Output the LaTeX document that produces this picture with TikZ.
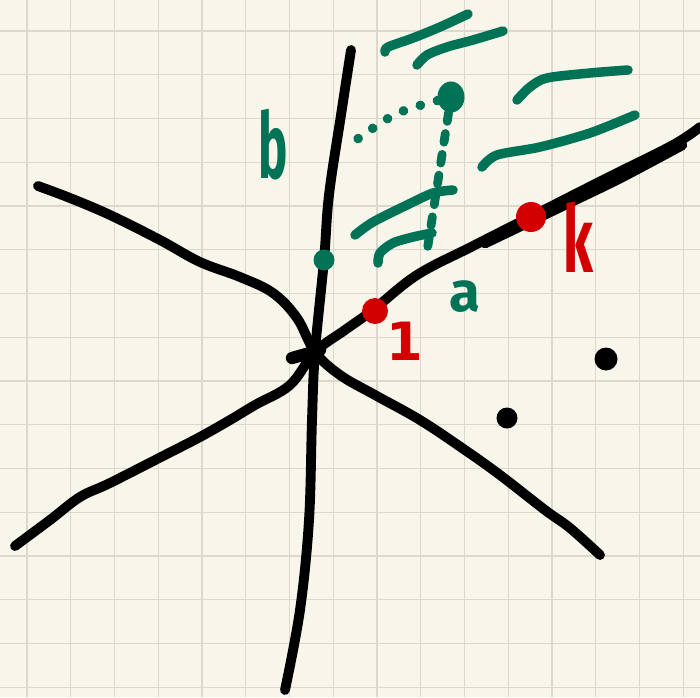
\documentclass[tikz,border=0pt]{standalone}
\usepackage{fontspec}
\setsansfont{Fira Sans}
\newfontfamily\digitfont{DejaVu Sans}
\usepackage{xcolor}
\definecolor{paper}{HTML}{F8F6EA}
\definecolor{gridline}{HTML}{DAD9CC}
\definecolor{pengreen}{HTML}{007356}
\definecolor{penred}{HTML}{D30000}
\usetikzlibrary{positioning}

\tikzset{
  pen/.style={line width=5.6pt, line cap=round, line join=round},
  hatch/.style={pengreen, line width=5.4pt, line cap=round, line join=round},
  greendots/.style={pengreen, line width=5.4pt, line cap=round, dash pattern=on 0.1pt off 10pt},
  greendash/.style={pengreen, line width=5pt, line cap=round, dash pattern=on 5pt off 7pt},
  dot/.style={circle, fill, inner sep=0pt, minimum size=#1},
  hand/.style={font=\sffamily\bfseries\fontsize{#1}{#1}\selectfont, inner sep=0pt, anchor=base}
}

\begin{document}
\begin{tikzpicture}[x=0.02cm, y=-0.02cm]
  % paper and grid
  \fill[paper] (0,0) rectangle (700,697);
  \useasboundingbox (0,0) rectangle (700,697);
  \foreach \i in {0,...,15} {
    \draw[gridline, line width=0.7pt] (27+43.75*\i,0) -- (27+43.75*\i,697);
    \draw[gridline, line width=0.7pt] (0,31+43.75*\i) -- (700,31+43.75*\i);
  }

  % axes
  \coordinate (O) at (315,352);
  \draw[pen] plot[smooth, tension=0.6] coordinates {(351,50) (341,115) (329,195) (324,260) (O) (312,420) (309,520) (300,610) (285,690)};
  \draw[pen] plot[smooth, tension=0.6] coordinates {(38,186) (70,198) (110,215) (160,240) (200,262) (240,277) (273,293) (297,318) (O) (340,375) (375,395) (420,420) (465,450) (500,475) (545,510) (570,528) (600,555)};
  \draw[pen] plot[smooth, tension=0.6] coordinates {(15,546) (50,520) (80,497) (110,483) (165,455) (200,437) (230,420) (255,405) (290,385) (O) (345,330) (373,310) (417,275) (473,246) (540,212) (607,178) (673,145) (700,127)};
  \draw[pen, line width=6pt] plot[smooth] coordinates {(485,243) (560,207) (620,178) (682,145)};
  \draw[pen, line width=7pt] (292,358) -- (320,350);

  % black points
  \node[dot=0.46cm] (ptU) at (606,359) {};
  \node[dot=0.42cm] (ptV) at (507,418) {};

  % shading strokes
  \draw[hatch] plot[smooth] coordinates {(385,52) (388,47) (413,38) (440,27) (468,14)};
  \draw[hatch] plot[smooth] coordinates {(417,65) (427,55) (447,47) (473,40) (503,31)};
  \draw[hatch] plot[smooth] coordinates {(517,100) (530,87) (547,78) (590,73) (628,70)};
  \draw[hatch] plot[smooth] coordinates {(482,167) (497,155) (540,147) (590,133) (635,115)};
  \draw[hatch] plot[smooth] coordinates {(355,235) (373,222) (407,205) (433,193) (453,190)};
  \draw[hatch] plot[smooth] coordinates {(378,263) (380,253) (393,243) (413,237) (432,233)};

  % green points and projections
  \node[dot=0.54cm, pengreen, yscale=1.15] (ptP) at (451,97) {};
  \node[dot=0.42cm, pengreen] (ptB) at (324,260) {};
  \coordinate (bFoot) at (345,148);
  \coordinate (aFoot) at (426,258);
  \draw[greendots] (ptP) .. controls (395,112) .. (bFoot);
  \draw[greendash] (ptP) -- (aFoot);

  % red points
  \node[dot=0.52cm, penred] (ptOne) at (375,311) {};
  \node[dot=0.60cm, penred] (ptK) at (531,217) {};

  % labels
  \node[hand=40, pengreen] (lblB) at (273,178) {\scalebox{0.7}[1.3]{b}};
  \node[hand=32, pengreen] (lblA) at (465,311) {a};
  \node[hand=30, penred] (lblOne) at (405,360) {\digitfont\bfseries 1};
  \node[hand=44, penred] (lblK) at (578,272) {\scalebox{0.7}[1.2]{k}};
\end{tikzpicture}
\end{document}
